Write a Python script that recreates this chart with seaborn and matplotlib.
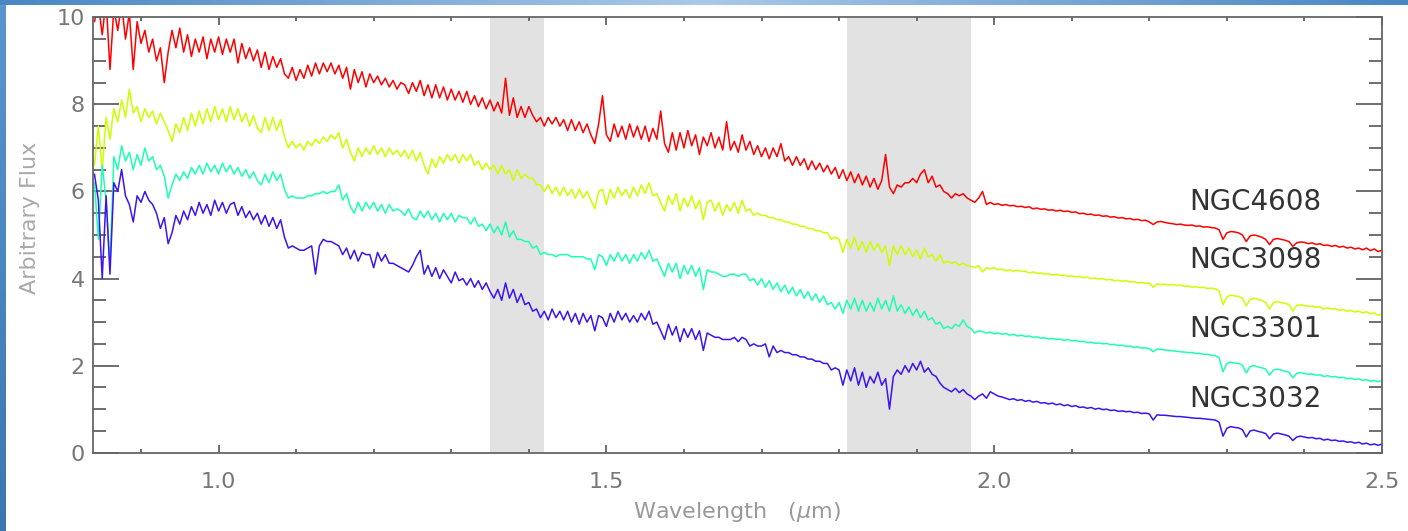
import numpy as np
import pandas as pd
import matplotlib
matplotlib.use("Agg")
import matplotlib.pyplot as plt
from matplotlib.ticker import MultipleLocator
from matplotlib.colors import LinearSegmentedColormap
import seaborn as sns

# wavelength grid (micron), one sample every 0.005 from 0.84 to 2.50
wave = np.round(0.84 + 0.005 * np.arange(333), 3)

galaxies = ["NGC4608", "NGC3098", "NGC3301", "NGC3032"]
colors = ["#ff0000", "#ccff00", "#1effb4", "#3c14f0"]
label_y = [5.75, 4.43, 2.83, 1.23]
bands = [(1.35, 1.42), (1.81, 1.97)]

ngc4608 = [
    9.9, 10.3, 9.6, 10.4, 8.8, 10.2, 9.7, 10.3, 9.5, 10.1, 8.8, 9.9, 9.4, 9.7, 9.2, 9.5, 9.0, 9.3, 8.5, 9.2,
    9.7, 9.3, 9.75, 9.2, 9.6, 9.1, 9.5, 9.2, 9.55, 9.05, 9.5, 9.2, 9.55, 9.15, 9.5, 9.2, 9.5, 8.95, 9.4, 9.05,
    9.3, 9.0, 9.25, 8.85, 9.2, 8.8, 9.1, 8.85, 9.05, 8.7, 8.6, 8.85, 8.55, 8.8, 8.6, 8.9, 8.65, 8.95, 8.7, 8.95,
    8.75, 8.95, 8.7, 8.9, 8.6, 8.85, 8.35, 8.8, 8.5, 8.75, 8.4, 8.7, 8.5, 8.65, 8.45, 8.6, 8.4, 8.55, 8.35, 8.5,
    8.45, 8.25, 8.5, 8.3, 8.55, 8.2, 8.45, 8.15, 8.45, 8.15, 8.4, 8.1, 8.35, 8.1, 8.3, 8.05, 8.3, 8.0, 8.2, 7.95,
    8.15, 7.9, 8.1, 7.85, 8.05, 7.8, 8.6, 7.75, 8.15, 7.7, 7.95, 7.7, 7.95, 7.75, 7.6, 7.7, 7.5, 7.7, 7.55, 7.7,
    7.5, 7.65, 7.4, 7.65, 7.4, 7.6, 7.35, 7.55, 7.3, 7.1, 7.55, 8.2, 7.3, 7.15, 7.55, 7.25, 7.5, 7.2, 7.55, 7.25,
    7.5, 7.2, 7.5, 7.15, 7.45, 7.2, 7.85, 7.1, 6.9, 7.35, 6.95, 7.35, 7.0, 7.4, 7.05, 7.3, 6.85, 7.25, 7.05, 7.35,
    7.0, 7.25, 6.95, 7.6, 6.95, 7.15, 6.9, 7.3, 6.95, 7.15, 6.85, 7.05, 6.8, 7.0, 6.75, 7.0, 6.8, 7.1, 6.7, 6.8,
    6.6, 6.8, 6.6, 6.75, 6.5, 6.7, 6.5, 6.65, 6.45, 6.6, 6.4, 6.55, 6.3, 6.5, 6.25, 6.45, 6.2, 6.4, 6.15, 6.35,
    6.1, 6.3, 6.05, 6.25, 6.85, 6.1, 5.95, 6.15, 6.1, 6.2, 6.2, 6.3, 6.2, 6.4, 6.5, 6.2, 6.35, 6.1, 6.15, 6.0,
    5.95, 5.85, 5.95, 5.9, 5.95, 5.85, 5.8, 5.75, 5.85, 6.0, 5.7, 5.75, 5.7, 5.72, 5.68, 5.7, 5.67, 5.68, 5.65, 5.66,
    5.63, 5.65, 5.6, 5.62, 5.59, 5.6, 5.57, 5.58, 5.55, 5.57, 5.54, 5.55, 5.52, 5.53, 5.49, 5.5, 5.47, 5.48, 5.45, 5.46,
    5.43, 5.44, 5.41, 5.42, 5.39, 5.4, 5.37, 5.38, 5.35, 5.36, 5.33, 5.34, 5.3, 5.24, 5.3, 5.31, 5.29, 5.27, 5.26, 5.24,
    5.25, 5.23, 5.22, 5.23, 5.2, 5.21, 5.18, 5.19, 5.17, 5.16, 5.12, 4.9, 5.05, 5.08, 5.07, 5.05, 5.0, 4.85, 4.98, 5.0,
    4.98, 4.95, 4.9, 4.78, 4.9, 4.92, 4.9, 4.88, 4.85, 4.74, 4.82, 4.84, 4.83, 4.8, 4.82, 4.78, 4.8, 4.76, 4.77, 4.74,
    4.76, 4.72, 4.74, 4.7, 4.72, 4.68, 4.7, 4.66, 4.7, 4.64, 4.68, 4.62, 4.65,
]

ngc3098 = [
    6.6, 7.5, 6.5, 7.7, 7.2, 7.9, 7.6, 8.1, 7.7, 8.35, 7.8, 7.95, 7.6, 7.9, 7.7, 7.85, 7.55, 7.8, 7.6, 7.4,
    7.15, 7.55, 7.35, 7.7, 7.4, 7.8, 7.5, 7.85, 7.55, 7.9, 7.6, 7.95, 7.65, 7.9, 7.6, 7.95, 7.65, 7.9, 7.6, 7.8,
    7.5, 7.75, 7.45, 7.35, 7.7, 7.4, 7.7, 7.4, 7.65, 7.25, 7.0, 7.15, 7.0, 7.1, 6.95, 7.15, 7.05, 7.2, 7.1, 7.25,
    7.15, 7.3, 7.2, 7.35, 7.0, 7.2, 6.9, 6.7, 7.0, 6.8, 7.0, 6.85, 7.05, 6.85, 7.0, 6.8, 7.0, 6.85, 6.95, 6.8,
    6.95, 6.75, 6.95, 6.7, 6.9, 6.6, 6.4, 6.75, 6.55, 6.8, 6.65, 6.85, 6.7, 6.85, 6.65, 6.85, 6.7, 6.85, 6.6, 6.7,
    6.5, 6.65, 6.5, 6.6, 6.4, 6.6, 6.4, 6.5, 6.25, 6.5, 6.3, 6.4, 6.3, 6.3, 6.15, 6.15, 6.0, 6.15, 5.95, 6.1,
    5.9, 6.1, 5.9, 6.05, 5.85, 6.05, 5.85, 6.0, 5.8, 5.6, 6.0, 6.05, 5.7, 6.05, 5.85, 6.1, 5.9, 6.05, 5.85, 6.1,
    5.9, 6.15, 5.95, 6.2, 5.9, 5.95, 5.75, 5.55, 5.9, 5.7, 5.95, 5.55, 5.85, 5.65, 5.9, 5.6, 5.8, 5.35, 5.75, 5.8,
    5.55, 5.75, 5.45, 5.7, 5.55, 5.75, 5.5, 5.8, 5.55, 5.6, 5.45, 5.5, 5.45, 5.45, 5.4, 5.4, 5.35, 5.35, 5.3, 5.3,
    5.25, 5.25, 5.2, 5.2, 5.15, 5.15, 5.1, 5.1, 5.05, 5.05, 4.9, 4.95, 4.9, 4.6, 4.9, 4.7, 4.95, 4.65, 4.85, 4.6,
    4.85, 4.65, 4.8, 4.6, 4.75, 4.3, 4.75, 4.55, 4.75, 4.55, 4.7, 4.5, 4.65, 4.45, 4.7, 4.5, 4.55, 4.4, 4.55, 4.35,
    4.4, 4.35, 4.38, 4.3, 4.35, 4.3, 4.28, 4.25, 4.3, 4.15, 4.25, 4.22, 4.25, 4.2, 4.22, 4.18, 4.2, 4.17, 4.19, 4.16,
    4.17, 4.13, 4.15, 4.12, 4.13, 4.1, 4.11, 4.08, 4.1, 4.07, 4.08, 4.05, 4.06, 4.04, 4.05, 4.02, 4.03, 4.0, 4.01, 3.99,
    4.0, 3.97, 3.98, 3.95, 3.96, 3.94, 3.95, 3.92, 3.93, 3.9, 3.91, 3.89, 3.9, 3.8, 3.88, 3.86, 3.87, 3.85, 3.86, 3.84,
    3.85, 3.82, 3.83, 3.8, 3.81, 3.79, 3.8, 3.77, 3.78, 3.76, 3.72, 3.4, 3.58, 3.62, 3.6, 3.59, 3.55, 3.37, 3.52, 3.55,
    3.52, 3.5, 3.45, 3.3, 3.45, 3.47, 3.45, 3.43, 3.4, 3.25, 3.38, 3.4, 3.38, 3.36, 3.37, 3.34, 3.35, 3.3, 3.33, 3.3,
    3.31, 3.27, 3.29, 3.25, 3.27, 3.23, 3.25, 3.21, 3.24, 3.19, 3.21, 3.16, 3.18,
]

ngc3301 = [
    6.2, 4.9, 6.6, 5.8, 4.3, 6.8, 6.5, 7.05, 6.7, 6.9, 6.5, 6.85, 6.6, 7.0, 6.7, 6.8, 6.5, 6.6, 6.35, 5.85,
    6.15, 6.4, 6.25, 6.45, 6.3, 6.55, 6.4, 6.6, 6.4, 6.65, 6.45, 6.6, 6.4, 6.65, 6.45, 6.6, 6.4, 6.55, 6.35, 6.5,
    6.3, 6.45, 6.25, 6.15, 6.4, 6.2, 6.45, 6.25, 6.4, 6.05, 5.85, 5.9, 5.85, 5.85, 5.85, 5.9, 5.9, 5.95, 5.95, 6.0,
    5.95, 6.0, 6.0, 6.15, 5.8, 5.95, 5.65, 5.5, 5.75, 5.55, 5.75, 5.6, 5.75, 5.55, 5.7, 5.5, 5.7, 5.55, 5.6, 5.55,
    5.45, 5.6, 5.4, 5.35, 5.55, 5.4, 5.55, 5.35, 5.5, 5.3, 5.5, 5.35, 5.5, 5.3, 5.45, 5.4, 5.4, 5.25, 5.4, 5.2,
    5.25, 5.1, 5.25, 5.05, 5.2, 5.0, 5.3, 4.95, 5.1, 4.9, 4.9, 4.85, 4.85, 4.7, 4.75, 4.55, 4.6, 4.55, 4.55, 4.5,
    4.55, 4.55, 4.55, 4.5, 4.5, 4.5, 4.5, 4.45, 4.45, 4.2, 4.55, 4.5, 4.3, 4.55, 4.4, 4.6, 4.4, 4.55, 4.35, 4.55,
    4.4, 4.6, 4.45, 4.65, 4.4, 4.45, 4.25, 4.05, 4.35, 4.15, 4.35, 4.0, 4.3, 4.1, 4.3, 4.05, 4.25, 3.75, 4.2, 4.15,
    4.15, 4.1, 4.05, 4.05, 4.1, 4.1, 4.05, 4.1, 4.1, 3.95, 4.0, 3.85, 4.0, 3.8, 3.95, 3.75, 3.9, 3.7, 3.85, 3.65,
    3.8, 3.6, 3.75, 3.55, 3.7, 3.5, 3.65, 3.45, 3.6, 3.4, 3.45, 3.3, 3.45, 3.2, 3.5, 3.3, 3.55, 3.25, 3.5, 3.25,
    3.45, 3.25, 3.55, 3.3, 3.5, 3.25, 3.6, 3.25, 3.4, 3.2, 3.35, 3.15, 3.3, 3.1, 3.25, 3.05, 3.1, 2.95, 3.0, 2.85,
    2.9, 2.85, 2.95, 2.9, 3.05, 2.9, 2.85, 2.75, 2.8, 2.78, 2.75, 2.77, 2.73, 2.75, 2.72, 2.74, 2.7, 2.72, 2.68, 2.7,
    2.67, 2.68, 2.65, 2.66, 2.63, 2.64, 2.61, 2.63, 2.6, 2.61, 2.58, 2.6, 2.57, 2.58, 2.55, 2.56, 2.53, 2.54, 2.51, 2.52,
    2.5, 2.51, 2.48, 2.49, 2.46, 2.47, 2.44, 2.45, 2.42, 2.43, 2.4, 2.41, 2.39, 2.32, 2.38, 2.37, 2.36, 2.35, 2.34, 2.33,
    2.32, 2.31, 2.3, 2.3, 2.28, 2.28, 2.26, 2.26, 2.24, 2.23, 2.18, 1.86, 2.05, 2.08, 2.06, 2.05, 2.01, 1.83, 1.98, 2.0,
    1.97, 1.95, 1.92, 1.78, 1.9, 1.92, 1.9, 1.87, 1.85, 1.72, 1.82, 1.84, 1.82, 1.8, 1.81, 1.78, 1.79, 1.75, 1.77, 1.74,
    1.75, 1.72, 1.73, 1.7, 1.71, 1.68, 1.7, 1.66, 1.68, 1.64, 1.66, 1.63, 1.66,
]

ngc3032 = [
    6.4, 5.8, 4.0, 5.9, 4.1, 6.2, 6.0, 6.5, 5.9, 5.7, 5.3, 5.9, 5.75, 6.0, 5.8, 5.7, 5.5, 5.15, 5.4, 4.8,
    5.05, 5.45, 5.25, 5.55, 5.35, 5.65, 5.45, 5.75, 5.5, 5.7, 5.45, 5.8, 5.55, 5.75, 5.5, 5.7, 5.75, 5.45, 5.65, 5.4,
    5.55, 5.35, 5.5, 5.25, 5.45, 5.2, 5.4, 5.15, 5.35, 4.95, 4.7, 4.75, 4.7, 4.65, 4.65, 4.7, 4.75, 4.1, 4.75, 4.9,
    4.85, 4.85, 4.8, 4.75, 4.55, 4.7, 4.45, 4.65, 4.4, 4.6, 4.55, 4.55, 4.25, 4.6, 4.4, 4.55, 4.35, 4.35, 4.3, 4.25,
    4.2, 4.15, 4.3, 4.5, 4.65, 4.1, 4.3, 4.05, 4.25, 4.0, 4.2, 4.05, 3.9, 4.15, 3.95, 4.0, 3.85, 4.0, 3.8, 3.95,
    3.75, 3.9, 3.7, 3.55, 3.75, 3.5, 3.9, 3.55, 3.75, 3.45, 3.65, 3.4, 3.45, 3.25, 3.3, 3.1, 3.25, 3.05, 3.3, 3.1,
    3.25, 3.05, 3.25, 3.0, 3.2, 2.95, 3.2, 3.0, 3.15, 2.8, 3.15, 3.1, 2.9, 3.2, 3.0, 3.25, 3.05, 3.2, 3.0, 3.15,
    3.0, 3.2, 3.05, 3.25, 2.95, 3.0, 2.8, 2.6, 2.95, 2.7, 2.9, 2.55, 2.85, 2.65, 2.85, 2.6, 2.8, 2.35, 2.75, 2.7,
    2.65, 2.65, 2.6, 2.6, 2.6, 2.65, 2.55, 2.65, 2.6, 2.45, 2.5, 2.45, 2.45, 2.5, 2.2, 2.45, 2.3, 2.35, 2.3, 2.3,
    2.25, 2.25, 2.2, 2.2, 2.15, 2.15, 2.1, 2.1, 2.05, 2.05, 1.9, 1.95, 1.9, 1.55, 1.9, 1.65, 1.95, 1.55, 1.85, 1.5,
    1.75, 1.6, 1.85, 1.55, 1.7, 1.0, 1.75, 1.9, 1.8, 2.0, 1.85, 2.05, 1.9, 2.1, 1.85, 1.95, 1.8, 1.75, 1.6, 1.5,
    1.45, 1.4, 1.48, 1.38, 1.45, 1.35, 1.3, 1.22, 1.3, 1.35, 1.25, 1.4, 1.35, 1.3, 1.28, 1.25, 1.22, 1.24, 1.2, 1.22,
    1.18, 1.2, 1.16, 1.18, 1.14, 1.15, 1.12, 1.14, 1.1, 1.12, 1.08, 1.1, 1.06, 1.08, 1.04, 1.05, 1.02, 1.04, 1.0, 1.02,
    0.99, 1.0, 0.97, 0.98, 0.95, 0.96, 0.94, 0.95, 0.92, 0.93, 0.9, 0.91, 0.89, 0.75, 0.87, 0.86, 0.86, 0.85, 0.84, 0.83,
    0.83, 0.82, 0.81, 0.8, 0.79, 0.79, 0.78, 0.77, 0.76, 0.75, 0.7, 0.38, 0.56, 0.6, 0.58, 0.57, 0.53, 0.36, 0.5, 0.52,
    0.49, 0.47, 0.44, 0.32, 0.43, 0.45, 0.43, 0.41, 0.38, 0.28, 0.36, 0.38, 0.36, 0.34, 0.35, 0.32, 0.33, 0.29, 0.31, 0.28,
    0.29, 0.26, 0.27, 0.24, 0.25, 0.22, 0.24, 0.2, 0.22, 0.18, 0.2, 0.17, 0.2,
]

fluxes = [ngc4608, ngc3098, ngc3301, ngc3032]

frames = []
for name, f in zip(galaxies, fluxes):
    frames.append(pd.DataFrame({"wave": wave[:len(f)], "flux": f, "galaxy": name}))
df = pd.concat(frames, ignore_index=True)

sns.set_style("white")
plt.rcParams["font.family"] = ["DejaVu Sans"]

fig = plt.figure(figsize=(14.08, 5.31), dpi=100)
ax = fig.add_axes([93.3 / 1408, 1 - 452.7 / 531, (1382 - 93.3) / 1408, (452.7 - 17.3) / 531])

for lo, hi in bands:
    ax.axvspan(lo, hi, color="#e2e2e2", lw=0, zorder=0)

sns.lineplot(data=df, x="wave", y="flux", hue="galaxy", hue_order=galaxies,
             palette=dict(zip(galaxies, colors)), estimator=None, sort=False,
             legend=False, lw=1.1, ax=ax, zorder=2)

for name, y in zip(galaxies, label_y):
    ax.text(2.252, y, name, fontsize=20, color="#333333", va="center", ha="left")

ax.set_xlim(0.8385, 2.5)
ax.set_ylim(0, 10)
ax.set_xticks([1.0, 1.5, 2.0, 2.5])
ax.set_xticklabels(["1.0", "1.5", "2.0", "2.5"])
ax.set_yticks([0, 2, 4, 6, 8, 10])
ax.xaxis.set_minor_locator(MultipleLocator(0.1))
ax.yaxis.set_minor_locator(MultipleLocator(0.5))
ax.set_xlabel("")
ax.set_ylabel("")

for s in ax.spines.values():
    s.set_color("#666666")
    s.set_linewidth(1.3)

ax.tick_params(axis="both", which="both", direction="in", color="#555555",
               labelcolor="#777777", labelsize=16, width=1.2)
ax.tick_params(axis="y", which="major", length=18.7, left=True, right=True, pad=6)
ax.tick_params(axis="y", which="minor", length=9.4, left=True, right=True)
ax.tick_params(axis="x", which="major", length=6, top=True, bottom=True, pad=14)
ax.tick_params(axis="x", which="minor", length=3, top=True, bottom=True)

fig.text(30 / 1408, 1 - 218 / 531, "Arbitrary Flux", rotation=90, ha="center",
         va="center", fontsize=16, color="#aaaaaa")
fig.text(737 / 1408, 1 - 512 / 531, r"Wavelength   ($\mu$m)", ha="center",
         va="center", fontsize=16, color="#999999")

# blue slide frame on the top and left edges
frame_cmap = LinearSegmentedColormap.from_list("frame", ["#4a86c4", "#a9c9e9", "#4a86c4"])
top = fig.add_axes([0, 1 - 5 / 531, 1, 5 / 531])
top.imshow(np.linspace(0, 1, 256)[None, :], aspect="auto", cmap=frame_cmap)
top.axis("off")
side_cmap = LinearSegmentedColormap.from_list("side", ["#5a95d0", "#3a76b0"])
side = fig.add_axes([0, 0, 6 / 1408, 1 - 5 / 531])
side.imshow(np.linspace(0, 1, 256)[:, None], aspect="auto", cmap=side_cmap)
side.axis("off")

fig.savefig("out.png", dpi=100)
